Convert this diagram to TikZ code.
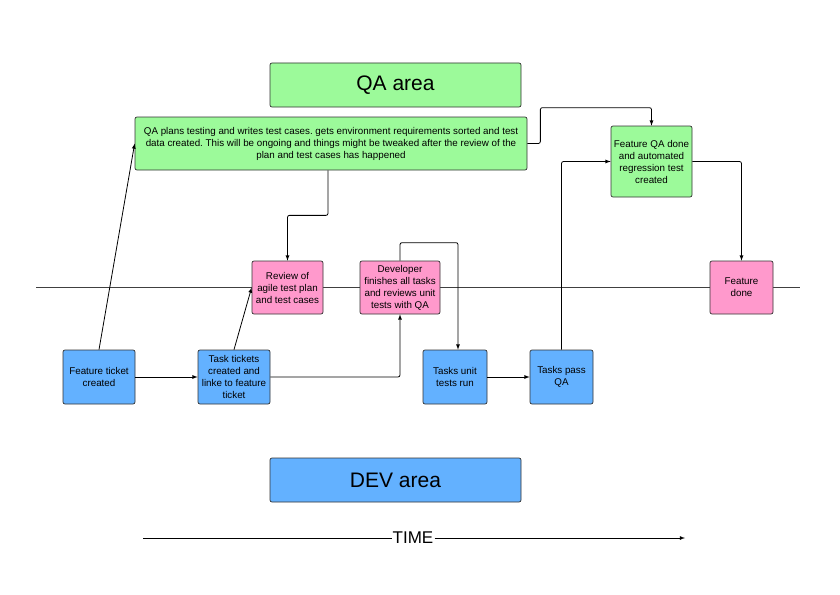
\documentclass[tikz,border=0pt]{standalone}
\usepackage{fontspec}
\setmainfont{Liberation Sans}
\usepackage{xcolor}
\usepackage{tikz}
\frenchspacing

\definecolor{qagreen}{HTML}{9CFA9A}
\definecolor{revpink}{HTML}{FF99CC}
\definecolor{devblue}{HTML}{63B1FF}

\begin{document}
\begin{tikzpicture}[x=1pt, y=-1pt, >=latex,
    block/.style={rectangle, draw=black!80, line width=0.7pt, rounded corners=2pt, align=center, inner sep=1pt, font=\fontsize{9.8}{12}\selectfont},
    qa/.style={block, fill=qagreen},
    rev/.style={block, fill=revpink},
    dev/.style={block, fill=devblue},
    area/.style={block, minimum width=251pt, minimum height=44pt, font=\fontsize{21}{24}\selectfont}]

    \useasboundingbox (0,0) rectangle (840,594);

    % time line behind the boxes
    \coordinate (L1) at (36,287);
    \coordinate (L2) at (800,287);
    \draw[thick, black!75] (L1) -- (L2);

    \node[area, fill=qagreen] (QA) at (395.5,85) {QA area};
    \node[qa, minimum width=392pt, minimum height=53pt] (P1) at (331,143.5) {QA plans testing and writes test cases. gets environment requirements sorted and test\\data created. This will be ongoing and things might be tweaked after the review of the\\plan and test cases has happened};
    \node[qa, minimum width=81pt, minimum height=71pt] (P2) at (651.5,161.5) {Feature QA done\\and automated\\regression test\\created};

    \node[rev, minimum width=71pt, minimum height=53pt] (R1) at (287.5,287.5) {Review of\\agile test plan\\and test cases};
    \node[rev, minimum width=80pt, minimum height=53pt] (R2) at (400,287.5) {Developer\\finishes all tasks\\and reviews unit\\tests with QA};
    \node[rev, minimum width=63pt, minimum height=53pt] (R3) at (741.5,287.5) {Feature\\done};

    \node[dev, minimum width=72pt, minimum height=54pt] (D1) at (99,377) {Feature ticket\\created};
    \node[dev, minimum width=72pt, minimum height=54pt] (D2) at (234,377) {Task tickets\\created and\\linke to feature\\ticket};
    \node[dev, minimum width=64pt, minimum height=54pt] (D3) at (455,377) {Tasks unit\\tests run};
    \node[dev, minimum width=63pt, minimum height=54pt] (D4) at (561.5,377) {Tasks pass\\QA};

    \node[area, fill=devblue] (DEV) at (395.5,480) {DEV area};

    \draw[->, thick] (D1.north) -- (P1.west);
    \draw[->, thick] (D1) -- (D2);
    \draw[->, thick] (D2.north) -- (R1.west);
    \draw[->, thick, rounded corners=2pt] ([xshift=-3pt]P1.south) -- ++(0,45) -| (R1.north);
    \draw[->, thick, rounded corners=2pt] (D2.east) -| (R2.south);
    \draw[->, thick, rounded corners=2pt] (R2.north) -- ++(0,-18) -| ([xshift=3pt]D3.north);
    \draw[->, thick] (D3) -- (D4);
    \draw[->, thick, rounded corners=2pt] (D4.north) |- (P2.west);
    \draw[->, thick, rounded corners=2pt] (P1.east) -- ++(13,0) |- ([yshift=18pt]P2.north) -- (P2.north);
    \draw[->, thick, rounded corners=2pt] (P2.east) -| (R3.north);

    % time arrow
    \node[inner sep=1pt, font=\fontsize{17}{20}\selectfont] (T) at (413,538) {TIME};
    \coordinate (T0) at (143,538);
    \coordinate (T1) at (685,538);
    \draw[thick] (T0) -- (T.west);
    \draw[->, thick] (T.east) -- (T1);
\end{tikzpicture}
\end{document}
